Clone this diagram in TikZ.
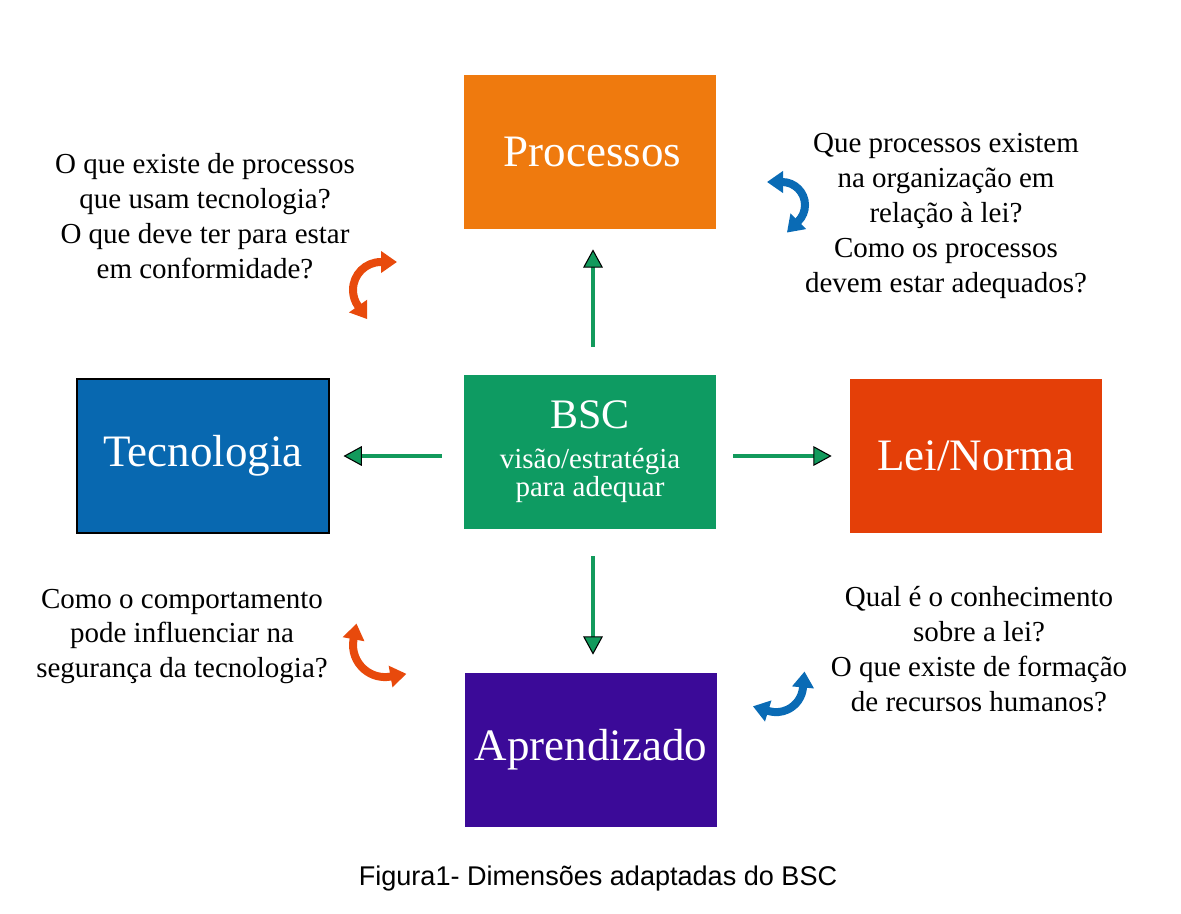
\documentclass[tikz,border=0pt]{standalone}
\usepackage{fontspec}
\setmainfont{Liberation Serif}
\newfontfamily\captionfont{Liberation Sans}
\usepackage{tikz}
\usetikzlibrary{arrows.meta,positioning}
\definecolor{procorange}{HTML}{EF7A0E}
\definecolor{bscgreen}{HTML}{0E9B62}
\definecolor{tecblue}{HTML}{0868B0}
\definecolor{leired}{HTML}{E43F08}
\definecolor{aprpurple}{HTML}{3B0A98}
\definecolor{flowgreen}{HTML}{129A5C}
\definecolor{cycorange}{HTML}{E84A0C}
\definecolor{cycblue}{HTML}{0A6BB5}

\tikzset{
  dimbox/.style={minimum width=5.04cm, minimum height=3.08cm, inner sep=0pt,
    text=white, font=\fontsize{25.6}{28}\selectfont},
  question/.style={align=center, font=\fontsize{16.5}{19.9}\selectfont},
  flow/.style={draw=flowgreen, line width=1.8pt,
    -{Triangle[length=10.4pt, width=11.2pt, fill=flowgreen, color=black, line width=0.6pt]}},
  cyc/.style={line width=0.16cm,
    {Triangle[length=0.32cm, width=0.42cm]}-{Triangle[length=0.32cm, width=0.42cm]}}
}

\begin{document}
\begin{tikzpicture}
  \useasboundingbox (0,0) rectangle (23.62,18.26);

  % Dimension boxes
  \node[dimbox, fill=procorange] (proc) at (11.79,15.22) {\hspace{0.12cm}Processos};
  \node[dimbox, fill=bscgreen, align=center, font=\fontsize{16.5}{15.8}\selectfont]
    (bsc) at (11.80,9.22)
    {{\fontsize{23.9}{26}\selectfont BSC}\\[7pt]visão/estratégia\\para adequar};
  \node[dimbox, fill=tecblue, draw=black, line width=0.6pt] (tec) at (4.06,9.14) {Tecnologia};
  \node[dimbox, fill=leired] (lei) at (19.52,9.14) {Lei/Norma};
  \node[dimbox, fill=aprpurple] (apr) at (11.82,3.26) {Aprendizado};

  % Arrows from BSC
  \draw[flow, shorten <=0.56cm, shorten >=0.40cm] ([xshift=0.06cm]bsc.north) -- ([xshift=0.06cm]bsc.north |- proc.south);
  \draw[flow, shorten <=0.44cm, shorten >=0.28cm] (bsc.west |- tec.east) -- (tec.east);
  \draw[flow, shorten <=0.34cm, shorten >=0.36cm] (bsc.east |- lei.west) -- (lei.west);
  \draw[flow, shorten <=0.54cm, shorten >=0.36cm] ([xshift=0.06cm]bsc.south) -- ([xshift=0.06cm]bsc.south |- apr.north);

  % Questions
  \node[question] (qtec) at (4.10,13.94)
    {O que existe de processos\\que usam tecnologia?\\O que deve ter para estar\\em conformidade?};
  \node[question] (qproc) at (18.92,13.94)
    {Que processos existem\\na organização em\\relação à lei?\\Como os processos\\devem estar adequados?};
  \node[question] (qapr) at (3.64,5.53)
    {Como o comportamento\\pode influenciar na\\segurança da tecnologia?};
  \node[question] (qlei) at (19.58,5.28)
    {Qual é o conhecimento\\sobre a lei?\\O que existe de formação\\de recursos humanos?};

  % Curved arrows
  \draw[cyc, cycorange] (7.94,13.02) -- (7.62,13.02)
    arc[start angle=90, end angle=215, radius=0.56] -- ++(305:0.32);
  \draw[cyc, cycblue] (15.34,14.62) -- (15.64,14.62)
    arc[start angle=90, end angle=-45, radius=0.46] -- ++(-135:0.32);
  \draw[cyc, cycorange] (7.13,5.79) -- (7.07,5.47)
    arc[start angle=170, end angle=280, radius=0.64] -- ++(10:0.32);
  \draw[cyc, cycblue] (16.09,4.83) -- (16.06,4.51)
    arc[start angle=-5, end angle=-107, radius=0.54] -- ++(163:0.32);

  % Caption
  \node[font=\captionfont\fontsize{15.4}{18}\selectfont] (caption) at (11.96,0.70)
    {Figura1- Dimensões adaptadas do BSC};
\end{tikzpicture}
\end{document}
